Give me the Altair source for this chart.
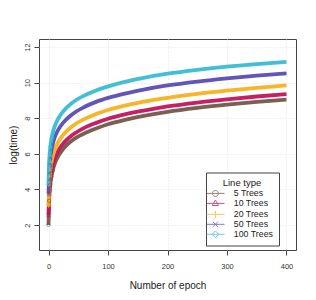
import altair as alt
import pandas as pd

# ---- data ----
series = ["5 Trees", "10 Trees", "20 Trees", "50 Trees", "100 Trees"]
colors = ["#745648", "#c4135c", "#f7b11b", "#5b4cb4", "#36bcd4"]

epochs = [0, 1, 2, 3, 5, 7, 10, 15, 20, 30, 40, 60, 80, 100, 130, 160, 200, 250, 300, 350, 400]
trees5 = [2.00, 3.36, 3.91, 4.27, 4.74, 5.05, 5.40, 5.79, 6.07, 6.47, 6.76, 7.14, 7.42, 7.66, 7.92, 8.13, 8.36, 8.58, 8.76, 8.92, 9.05]
trees10 = [2.55, 3.73, 4.25, 4.59, 5.05, 5.36, 5.70, 6.09, 6.37, 6.77, 7.06, 7.46, 7.74, 7.97, 8.23, 8.43, 8.66, 8.88, 9.06, 9.22, 9.35]
trees20 = [3.05, 4.22, 4.74, 5.09, 5.54, 5.86, 6.19, 6.59, 6.87, 7.26, 7.55, 7.95, 8.24, 8.46, 8.72, 8.93, 9.15, 9.37, 9.55, 9.71, 9.84]
trees50 = [3.76, 4.91, 5.43, 5.77, 6.23, 6.54, 6.88, 7.27, 7.55, 7.94, 8.23, 8.63, 8.92, 9.14, 9.40, 9.61, 9.84, 10.06, 10.24, 10.39, 10.52]
trees100 = [4.27, 5.51, 6.05, 6.39, 6.86, 7.17, 7.51, 7.90, 8.18, 8.58, 8.87, 9.27, 9.56, 9.79, 10.06, 10.27, 10.50, 10.72, 10.90, 11.04, 11.16]

x_ticks = [0, 100, 200, 300, 400]
y_ticks = [2, 4, 6, 8, 10, 12]

# plot markers (R pch 1,2,3,4,5)
marker_shapes = [
    "circle",
    "triangle-up",
    "M0,-1V1M-1,0H1",
    "M-0.8,-0.8L0.8,0.8M-0.8,0.8L0.8,-0.8",
    "diamond",
]
# legend symbols: line segment + marker (unit = 3.5 px)
legend_shapes = [
    "M-2.6,0H2.6M-0.85,0A0.85,0.85,0,1,0,0.85,0A0.85,0.85,0,1,0,-0.85,0",
    "M-2.6,0H2.6M0,-0.95L0.9,0.6L-0.9,0.6Z",
    "M-2.6,0H2.6M0,-1V1",
    "M-2.6,0H2.6M-0.7,-0.7L0.7,0.7M-0.7,0.7L0.7,-0.7",
    "M-2.6,0H2.6M0,-0.95L0.95,0L0,0.95L-0.95,0Z",
]

values = [trees5, trees10, trees20, trees50, trees100]
rows = []
for s, vals in zip(series, values):
    for e, v in zip(epochs, vals):
        rows.append({"epoch": e, "logtime": v, "series": s})
df = pd.DataFrame(rows)

font = "Liberation Sans"

x_enc = alt.X("epoch:Q", scale=alt.Scale(domain=[-16, 416], nice=False, zero=False),
              axis=alt.Axis(values=x_ticks, title="Number of epoch", titleY=35,
                            titleBaseline="middle", labelPadding=7, format="d"))
y_enc = alt.Y("logtime:Q", scale=alt.Scale(domain=[0.6, 12.45], nice=False, zero=False),
              axis=alt.Axis(values=y_ticks, title="log(time)", titleAngle=270,
                            titleX=-26, titleY=105.5, titleBaseline="middle",
                            titleAlign="center", labelAngle=270, labelAlign="center",
                            labelBaseline="bottom", labelPadding=3))
color_scale = alt.Scale(domain=series, range=colors)

base = alt.Chart(df)

legend_layer = base.mark_point(opacity=0, filled=False, strokeWidth=1).encode(
    x=x_enc, y=y_enc,
    color=alt.Color("series:N", scale=color_scale, sort=series, title="Line type",
                    legend=alt.Legend(orient="none", legendX=167, legendY=133.5,
                                      symbolOpacity=0.75, symbolSize=49,
                                      symbolStrokeWidth=1, labelOffset=14,
                                      padding=5, rowPadding=-1.1, titlePadding=2,
                                      titleAnchor="middle",
                                      strokeColor="#444", fillColor="white")),
    shape=alt.Shape("series:N", scale=alt.Scale(domain=series, range=legend_shapes),
                    sort=series, title="Line type"),
)

lines = base.mark_line(strokeWidth=3.8, interpolate="monotone", opacity=0.95).encode(
    x=x_enc, y=y_enc,
    color=alt.Color("series:N", scale=color_scale, sort=series, legend=None),
    detail="series:N",
)

marker_layers = []
for s, shp in zip(series, marker_shapes):
    marker_layers.append(
        base.transform_filter((alt.datum.series == s) & (alt.datum.epoch <= 7))
        .mark_point(filled=False, size=11, strokeWidth=0.8, opacity=0.7)
        .encode(x=x_enc, y=y_enc,
                color=alt.Color("series:N", scale=color_scale, sort=series, legend=None),
                shape=alt.value(shp))
    )

chart = alt.layer(legend_layer, lines, *marker_layers).properties(
    width=257, height=211,
    autosize=alt.AutoSizeParams(type="none"),
    padding={"left": 31, "top": 31, "right": 12, "bottom": 42},
).configure_view(
    stroke="#444", strokeWidth=1
).configure_axis(
    domain=False, tickColor="#444", tickSize=5, tickWidth=1,
    grid=True, gridColor="#e3e3e3", gridDash=[1, 2], gridWidth=1,
    labelFont=font, labelFontSize=7.5, labelColor="#333",
    titleFont=font, titleFontSize=10, titleFontWeight="normal", titleColor="#222",
).configure_legend(
    labelFont=font, labelFontSize=8.8, labelColor="#222",
    titleFont=font, titleFontSize=9.5, titleFontWeight="normal", titleColor="#222",
)

chart.save("out.html", embed_options={"renderer": "svg", "actions": False})
